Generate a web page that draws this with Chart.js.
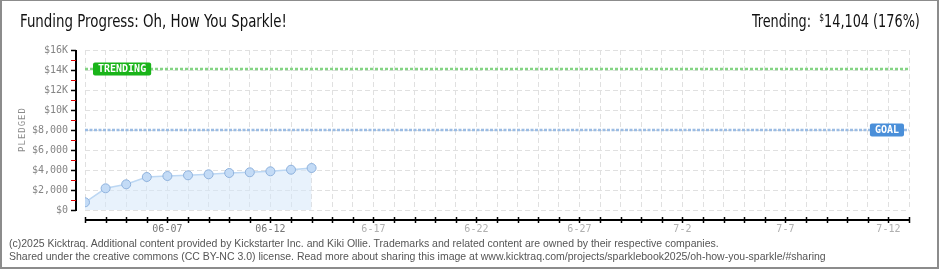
<!DOCTYPE html>
<html>
<head>
<meta charset="utf-8">
<script src="https://cdn.jsdelivr.net/npm/chart.js@4.4.1/dist/chart.umd.min.js"></script>
<style>
  html, body { margin: 0; padding: 0; background: #fff; }
  #frame { position: absolute; left: 0; top: 0; width: 939px; height: 269px; box-sizing: border-box;
           border-top: 1px solid #8c8c8c; border-left: 2px solid #8c8c8c; border-right: 2px solid #8c8c8c; border-bottom: 2px solid #8c8c8c; }
  #c { position: absolute; left: 0; top: 0; }
  .title { position: absolute; left: 20px; top: 11px; font-family: "DejaVu Sans Condensed", "Liberation Sans Narrow", sans-serif;
           font-size: 17px; color: #111; white-space: nowrap; transform: scaleX(0.875); transform-origin: 0 0; }
  .trend { position: absolute; right: 20px; top: 11px; font-family: "DejaVu Sans Condensed", "Liberation Sans Narrow", sans-serif;
           font-size: 17px; color: #111; white-space: nowrap; transform: scaleX(0.84); transform-origin: 100% 0; }
  .trend sup { font-size: 10px; vertical-align: 6px; }
  .foot { position: absolute; left: 9px; font-family: "Liberation Sans", sans-serif; font-size: 10.5px; color: #555; white-space: nowrap; }
</style>
</head>
<body>
<div id="frame"></div>
<canvas id="c" width="940" height="270"></canvas>
<div class="title">Funding Progress: Oh, How You Sparkle!</div>
<div class="trend">Trending:&nbsp; <sup>$</sup>14,104 (176%)</div>
<div class="foot" style="top:237px">(c)2025 Kicktraq. Additional content provided by Kickstarter Inc. and Kiki Ollie. Trademarks and related content are owned by their respective companies.</div>
<div class="foot" style="top:250px">Shared under the creative commons (CC BY-NC 3.0) license. Read more about sharing this image at www.kicktraq.com/projects/sparklebook2025/oh-how-you-sparkle/#sharing</div>
<script>
// ---- data ----
const dayCount = 40;                       // days 06-03 .. 07-13 (index 0..40)
const pledgedDays = [0, 1, 2, 3, 4, 5, 6, 7, 8, 9, 10, 11];
const pledgedValues = [770, 2170, 2570, 3300, 3400, 3470, 3570, 3700, 3770, 3870, 4030, 4200];
const trendingValue = 14104;
const goalValue = 8000;
const xTickDays = [4, 9, 14, 19, 24, 29, 34, 39];
const xTickLabels = ["06-07", "06-12", "6-17", "6-22", "6-27", "7-2", "7-7", "7-12"];
const xTickPast = [true, true, false, false, false, false, false, false];
const yTickValues = [0, 2000, 4000, 6000, 8000, 10000, 12000, 14000, 16000];
const yTickLabels = ["$0", "$2,000", "$4,000", "$6,000", "$8,000", "$10K", "$12K", "$14K", "$16K"];
const yMinorValues = [1000, 3000, 5000, 7000, 9000, 11000, 13000, 15000];

const PIX = '10px "DejaVu Sans Mono", "Liberation Mono", monospace';

const axesPlugin = {
  id: 'offsetAxes',
  afterDraw(chart) {
    const ctx = chart.ctx;
    const xs = chart.scales.x, ys = chart.scales.y;
    const area = chart.chartArea;
    ctx.save();
    // y axis line (offset left)
    const ax = area.left - 9;
    ctx.strokeStyle = '#000';
    ctx.lineWidth = 2;
    ctx.beginPath(); ctx.moveTo(ax, ys.getPixelForValue(16000)); ctx.lineTo(ax, ys.getPixelForValue(0) + 1); ctx.stroke();
    // major ticks
    ctx.lineWidth = 1.5;
    yTickValues.forEach(v => {
      const y = Math.round(ys.getPixelForValue(v)) + 0.5;
      ctx.beginPath(); ctx.moveTo(ax - 5, y); ctx.lineTo(ax, y); ctx.stroke();
    });
    ctx.strokeStyle = '#e00000';
    ctx.lineWidth = 1;
    yMinorValues.forEach(v => {
      const y = Math.round(ys.getPixelForValue(v)) + 0.5;
      ctx.beginPath(); ctx.moveTo(ax - 5, y); ctx.lineTo(ax, y); ctx.stroke();
    });
    // y labels
    ctx.font = PIX;
    ctx.fillStyle = '#858585';
    ctx.textAlign = 'right';
    ctx.textBaseline = 'middle';
    yTickValues.forEach((v, i) => ctx.fillText(yTickLabels[i], ax - 8, ys.getPixelForValue(v) + 0.5));
    // y title
    ctx.save();
    ctx.translate(23, (area.top + area.bottom) / 2);
    ctx.rotate(-Math.PI / 2);
    ctx.textAlign = 'center';
    ctx.font = '9px "DejaVu Sans Mono", monospace';
    ctx.fillStyle = '#8a8a8a';
    const t = 'PLEDGED';
    const sp = 6.4;
    for (let i = 0; i < t.length; i++) ctx.fillText(t[i], (i - (t.length - 1) / 2) * sp, 0);
    ctx.restore();
    // x axis line (offset below)
    const ay = area.bottom + 10;
    ctx.strokeStyle = '#000';
    ctx.lineWidth = 2;
    ctx.beginPath(); ctx.moveTo(xs.getPixelForValue(0), ay); ctx.lineTo(xs.getPixelForValue(dayCount) + 1, ay); ctx.stroke();
    ctx.lineWidth = 1.5;
    for (let d = 0; d <= dayCount; d++) {
      const x = Math.round(xs.getPixelForValue(d)) + 0.5;
      ctx.beginPath(); ctx.moveTo(x, ay - 3); ctx.lineTo(x, ay + 3); ctx.stroke();
    }
    ctx.textAlign = 'center';
    ctx.textBaseline = 'middle';
    ctx.font = PIX;
    xTickDays.forEach((d, i) => {
      ctx.fillStyle = xTickPast[i] ? '#777' : '#b0b0b0';
      ctx.fillText(xTickLabels[i], xs.getPixelForValue(d), ay + 9);
    });
    // line labels
    const tag = (text, x, y, color, alignRight) => {
      ctx.font = 'bold 10px "DejaVu Sans Mono", monospace';
      const w = ctx.measureText(text).width + 10;
      const h = 13;
      const bx = alignRight ? x - w : x;
      ctx.fillStyle = color;
      ctx.beginPath();
      ctx.roundRect(bx, y - h / 2, w, h, 2);
      ctx.fill();
      ctx.fillStyle = '#fff';
      ctx.textAlign = 'center';
      ctx.textBaseline = 'middle';
      ctx.fillText(text, bx + w / 2, y + 0.5);
    };
    tag('TRENDING', area.left + 8, ys.getPixelForValue(trendingValue), '#19b419', false);
    tag('GOAL', area.right - 5, ys.getPixelForValue(goalValue), '#4a8fd9', true);
    ctx.restore();
  }
};

new Chart(document.getElementById('c'), {
  type: 'scatter',
  data: {
    datasets: [
      {
        label: 'Pledged',
        data: pledgedDays.map((d, i) => ({ x: d, y: pledgedValues[i] })),
        showLine: true,
        borderColor: '#bcd7f3',
        borderWidth: 1.5,
        pointRadius: 4.5,
        pointBackgroundColor: '#c3dbf6',
        pointBorderColor: '#8fb2dd',
        pointBorderWidth: 1,
        fill: 'origin',
        backgroundColor: 'rgba(214,231,250,0.55)',
        tension: 0,
        order: 1
      },
      {
        label: 'Trending',
        data: [{ x: 0, y: trendingValue }, { x: dayCount, y: trendingValue }],
        showLine: true,
        borderColor: '#84d484',
        borderWidth: 2.5,
        borderDash: [3, 2],
        pointRadius: 0,
        fill: false,
        order: 2
      },
      {
        label: 'Goal',
        data: [{ x: 0, y: goalValue }, { x: dayCount, y: goalValue }],
        showLine: true,
        borderColor: '#9bbce3',
        borderWidth: 2.5,
        borderDash: [3, 1.5],
        pointRadius: 0,
        fill: false,
        order: 2
      }
    ]
  },
  options: {
    responsive: false,
    animation: false,
    layout: { padding: { left: 85, right: 31, top: 50, bottom: 60 } },
    plugins: { legend: { display: false }, tooltip: { enabled: false } },
    scales: {
      x: {
        type: 'linear', min: 0, max: dayCount,
        afterBuildTicks: s => { s.ticks = Array.from({ length: dayCount + 1 }, (_, i) => ({ value: i })); },
        afterFit: s => { s.height = 0; },
        ticks: { display: false },
        border: { display: false, dash: [5, 3] },
        grid: { color: '#e0e0e0', drawTicks: false, lineWidth: 1 }
      },
      y: {
        type: 'linear', min: 0, max: 16000,
        afterBuildTicks: s => { s.ticks = yTickValues.map(v => ({ value: v })); },
        afterFit: s => { s.width = 0; },
        ticks: { display: false },
        border: { display: false, dash: [5, 3] },
        grid: { color: '#e0e0e0', drawTicks: false, lineWidth: 1 }
      }
    }
  },
  plugins: [axesPlugin]
});
</script>
</body>
</html>
